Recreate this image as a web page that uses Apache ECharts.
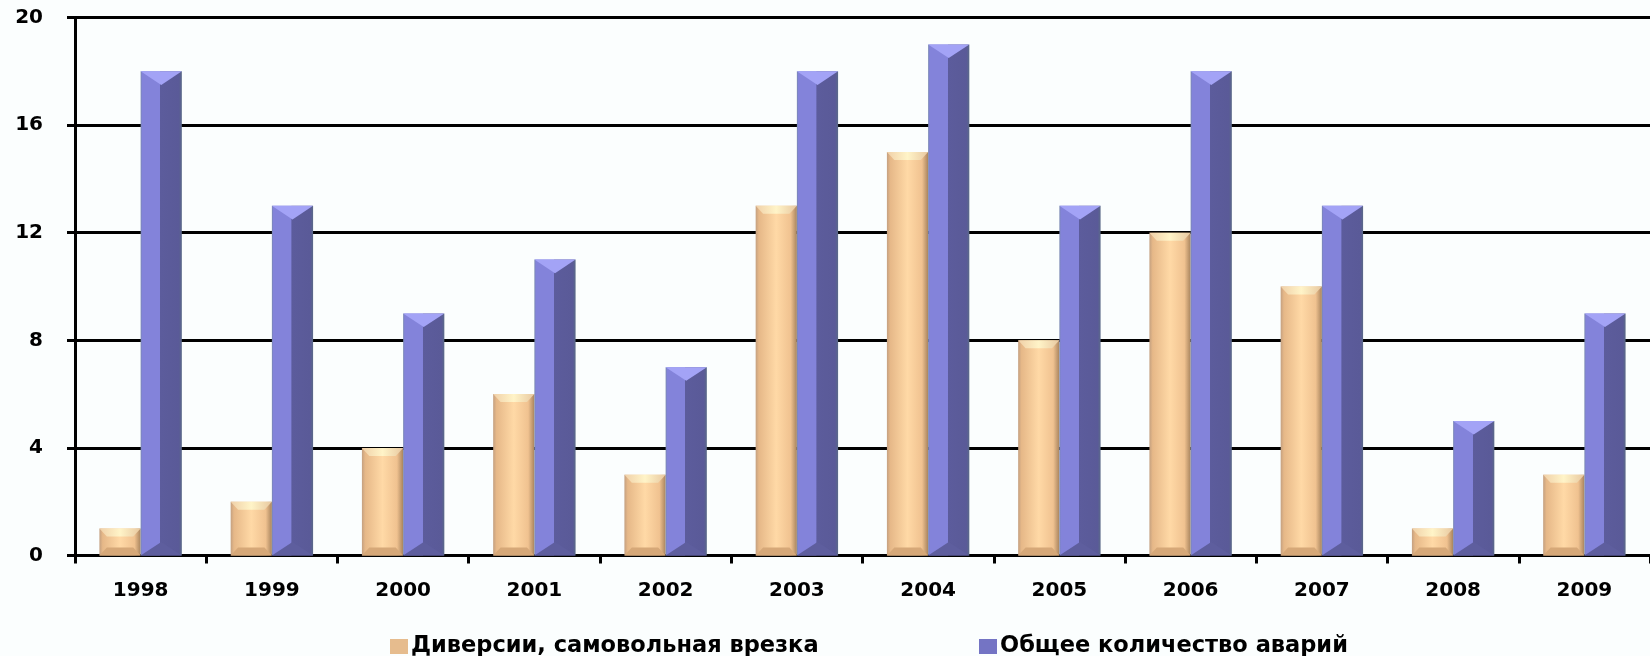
<!DOCTYPE html>
<html><head><meta charset="utf-8">
<script src="https://cdn.jsdelivr.net/npm/echarts@6/dist/echarts.min.js"></script>
<style>html,body{margin:0;padding:0;background:#fbfefe}#c{width:1650px;height:656px}</style>
</head><body><div id="c"></div>
<script>
var years = ['1998','1999','2000','2001','2002','2003','2004','2005','2006','2007','2008','2009'];
var diversions = [1, 2, 4, 6, 3, 13, 15, 8, 12, 10, 1, 3];
var totalAccidents = [18, 13, 9, 11, 7, 18, 19, 13, 18, 13, 5, 9];
var seriesNames = ['Диверсии, самовольная врезка', 'Общее количество аварий'];
var yTicks = {min: 0, max: 20, interval: 4};

var FONT = 'DejaVu Sans';
var BAR_FRAC = 0.314;

function render(kind) {
  return function (params, api) {
    var cat = api.value(0), val = api.value(1);
    var top = api.coord([cat, val]);
    var base = api.coord([cat, 0]);
    var band = api.size([1, 0])[0];
    var bw = band * BAR_FRAC;
    var x0 = kind === 0 ? top[0] - bw : top[0];
    var y0 = top[1], y1 = base[1], h = y1 - y0;
    var ch = [];
    if (kind === 1) {
      ch.push({type: 'rect', shape: {x: x0, y: y0, width: bw, height: h},
        style: {fill: new echarts.graphic.LinearGradient(0, 0, 1, 0, [
          {offset: 0, color: '#7888b0'}, {offset: 0.04, color: '#8383da'},
          {offset: 0.47, color: '#8383da'}, {offset: 0.48, color: '#5c5c9c'},
          {offset: 0.93, color: '#5a5a98'}, {offset: 1, color: '#5a6a88'}])}});
      var t = Math.min(bw * 0.33, h / 2);
      ch.push({type: 'polygon', shape: {points: [[x0, y0], [x0 + bw, y0], [x0 + bw / 2, y0 + t]]},
        style: {fill: '#a3a3f6'}});
      ch.push({type: 'polygon', shape: {points: [[x0, y1], [x0 + bw / 2, y1 - t], [x0 + bw, y1]]},
        style: {fill: '#5e5e9e'}});
    } else {
      ch.push({type: 'rect', shape: {x: x0, y: y0, width: bw, height: h},
        style: {fill: new echarts.graphic.LinearGradient(0, 0, 1, 0, [
          {offset: 0, color: '#c4a080'}, {offset: 0.08, color: '#e6b888'},
          {offset: 0.5, color: '#ffd9a6'}, {offset: 0.85, color: '#f0c290'},
          {offset: 1, color: '#a8845e'}])}});
      var b = Math.min(8, h / 3);
      ch.push({type: 'polygon', shape: {points: [[x0, y0], [x0 + bw, y0], [x0 + bw * 0.82, y0 + b], [x0 + bw * 0.18, y0 + b]]},
        style: {fill: new echarts.graphic.LinearGradient(0, 0, 1, 0, [
          {offset: 0, color: '#f0d0a8'}, {offset: 0.5, color: '#fff4c8'}, {offset: 1, color: '#e8c8a0'}])}});
      ch.push({type: 'polygon', shape: {points: [[x0, y1], [x0 + bw * 0.18, y1 - b], [x0 + bw * 0.82, y1 - b], [x0 + bw, y1]]},
        style: {fill: '#d6a878'}});
    }
    return {type: 'group', children: ch};
  };
}

function toData(arr) { return arr.map(function (v, i) { return [i, v]; }); }

var legendText = {fontFamily: FONT, fontWeight: 'bold', fontSize: 22.5, color: '#000', padding: [0, 0, 0, -2]};
var chart = echarts.init(document.getElementById('c'), null, {renderer: 'canvas'});
chart.setOption({
  backgroundColor: '#fbfefe',
  animation: false,
  grid: {left: 75, right: -31, top: 17.5, bottom: 100.5, containLabel: false},
  legend: [
    {left: 385, top: 630, itemWidth: 18, itemHeight: 15, icon: 'rect', textStyle: legendText, data: [seriesNames[0]]},
    {left: 974, top: 630, itemWidth: 18, itemHeight: 15, icon: 'rect', textStyle: legendText, data: [seriesNames[1]]}
  ],
  xAxis: {
    type: 'category', data: years, boundaryGap: true,
    axisLine: {lineStyle: {color: '#000', width: 3}},
    axisTick: {show: true, length: 8, lineStyle: {color: '#000', width: 3}},
    axisLabel: {fontFamily: FONT, fontWeight: 'bold', fontSize: 20, color: '#000', margin: 25, interval: 0},
    splitLine: {show: false}
  },
  yAxis: {
    type: 'value', min: yTicks.min, max: yTicks.max, interval: yTicks.interval,
    axisLine: {show: true, lineStyle: {color: '#000', width: 3}},
    axisTick: {show: true, length: 8, lineStyle: {color: '#000', width: 3}},
    axisLabel: {fontFamily: FONT, fontWeight: 'bold', fontSize: 20, color: '#000', margin: 32},
    splitLine: {show: true, lineStyle: {color: '#000', width: 3}}
  },
  series: [
    {name: seriesNames[0], type: 'custom', renderItem: render(0), data: toData(diversions),
     itemStyle: {color: '#e6bc8e'}, encode: {x: 0, y: 1}},
    {name: seriesNames[1], type: 'custom', renderItem: render(1), data: toData(totalAccidents),
     itemStyle: {color: '#7474c4'}, encode: {x: 0, y: 1}}
  ]
});
</script></body></html>
